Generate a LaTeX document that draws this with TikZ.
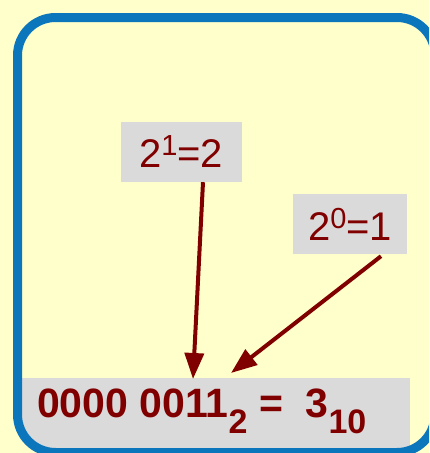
\documentclass[tikz,border=0pt]{standalone}
\usepackage{fontspec}
\setmainfont{Liberation Sans}
\usetikzlibrary{arrows.meta}
\definecolor{bg}{RGB}{255,255,204}
\definecolor{framecol}{RGB}{11,118,188}
\definecolor{boxgray}{RGB}{218,218,218}
\definecolor{dred}{RGB}{128,0,0}
\begin{document}
\begin{tikzpicture}[x=1pt,y=-1pt,
  lbl/.style={fill=boxgray, text=dred, inner sep=0pt, font=\fontsize{40}{40}\selectfont},
  sup/.style={},
  arr/.style={draw=dred, line width=4pt, -{Triangle[length=26pt,width=19pt]}}]
\useasboundingbox (0,0) rectangle (429,453);
\clip (0,0) rectangle (429,453);
\fill[bg] (0,0) rectangle (429,453);
% gray result band, clipped by the rounded frame
\begin{scope}
  \clip[rounded corners=38pt] (17.5,17.5) rectangle (435,452.5);
  \fill[boxgray] (15,378) rectangle (410,455);
\end{scope}
% frame
\draw[framecol, line width=9pt, rounded corners=38pt] (17.5,17.5) rectangle (435,452.5);
% result text
\node[anchor=base west, text=dred, inner sep=0pt,
      font=\fontsize{41}{41}\selectfont\bfseries] (res) at (37,417)
  {0000 0011\raisebox{-16pt}{\fontsize{34}{34}\selectfont 2} = \ 3\raisebox{-16pt}{\fontsize{34}{34}\selectfont 10}};
% labels
\node[lbl, minimum width=121pt, minimum height=60pt] (b1) at (181,152)
  {2\raisebox{12pt}{\fontsize{29}{29}\selectfont 1}=2\hspace{6pt}};
\node[lbl, minimum width=114pt, minimum height=60pt] (b2) at (350,224)
  {2\raisebox{12pt}{\fontsize{29}{29}\selectfont 0}=1\hspace{4pt}};
% arrow ends
\coordinate (t1) at (193,379);
\coordinate (t2) at (231,373);
\draw[arr] ([xshift=22pt]b1.south) -- (t1);
\draw[arr] ([xshift=31pt,yshift=-2pt]b2.south) -- (t2);
\end{tikzpicture}
\end{document}
